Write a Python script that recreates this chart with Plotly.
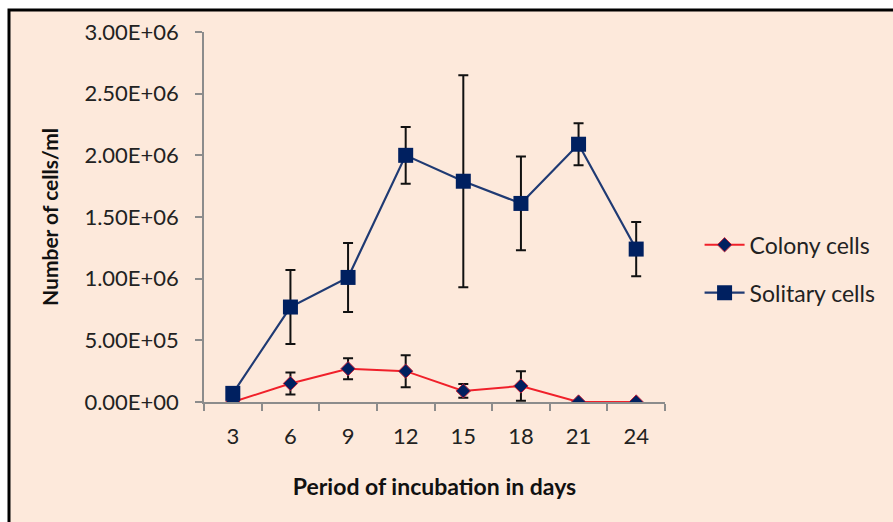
import plotly.graph_objects as go

# Incubation period (days) and cell counts per ml
days = ["3", "6", "9", "12", "15", "18", "21", "24"]
colony = [0, 150000, 270000, 250000, 90000, 130000, 0, 0]
colony_err = [0, 90000, 85000, 130000, 55000, 120000, 0, 0]
solitary = [70000, 770000, 1010000, 2000000, 1790000, 1610000, 2090000, 1240000]
solitary_err = [20000, 300000, 280000, 230000, 860000, 380000, 170000, 220000]

y_ticks = [0, 500000, 1000000, 1500000, 2000000, 2500000, 3000000]
y_tick_labels = ["0.00E+00", "5.00E+05", "1.00E+06", "1.50E+06",
                 "2.00E+06", "2.50E+06", "3.00E+06"]

FONT = "Lato, 'Open Sans', sans-serif"
BG = "#FDE9DB"
NAVY = "#002060"

fig = go.Figure()

fig.add_trace(go.Scatter(
    x=days, y=colony, name="Colony cells", mode="lines+markers",
    legendgroup="colony",
    line=dict(color="#F0202A", width=2),
    marker=dict(symbol="diamond", size=11, color=NAVY,
                line=dict(color="#C0203A", width=1)),
    error_y=dict(type="data", array=colony_err, visible=True,
                 color="#111111", thickness=2, width=5),
))

fig.add_trace(go.Scatter(
    x=days, y=solitary, name="Solitary cells", mode="lines+markers",
    legendgroup="solitary",
    line=dict(color="#1F3A73", width=2.2),
    marker=dict(symbol="square", size=15, color=NAVY),
    error_y=dict(type="data", array=solitary_err, visible=True,
                 color="#111111", thickness=2, width=5),
))

# Peach panel with a black frame running off the right and bottom edges
fig.add_shape(type="rect", xref="paper", yref="paper",
              x0=-0.423, x1=1.6, y0=-0.4, y1=1.0595,
              fillcolor=BG, line=dict(color="black", width=3), layer="below")

fig.update_layout(
    width=893, height=522,
    margin=dict(l=204, r=228, t=32, b=120),
    paper_bgcolor="white", plot_bgcolor=BG,
    font=dict(family=FONT, size=21, color="#222222"),
    showlegend=True,
    legend=dict(x=1.075, y=0.36, xanchor="left", yanchor="middle",
                bgcolor="rgba(0,0,0,0)", font=dict(size=23, color="#222222"),
                tracegroupgap=15, itemwidth=40),
    xaxis=dict(
        type="category", tickson="boundaries", range=[-0.5, 7.5],
        showline=True, linecolor="#8C8C8C", linewidth=1.5,
        ticks="outside", ticklen=7, tickcolor="#8C8C8C", tickwidth=1.5,
        showgrid=False, zeroline=False,
        tickfont=dict(size=22), ticklabelstandoff=14,
        title=dict(text="<b>Period of incubation in days</b>",
                   font=dict(size=23, color="#111111"), standoff=31),
    ),
    yaxis=dict(
        range=[0, 3000000], tickvals=y_ticks, ticktext=y_tick_labels,
        showline=True, linecolor="#8C8C8C", linewidth=1.5,
        ticks="outside", ticklen=7, tickcolor="#8C8C8C", tickwidth=1.5,
        showgrid=False, zeroline=False,
        tickfont=dict(size=22), ticklabelstandoff=12,
        title=dict(text="<b>Number of cells/ml</b>",
                   font=dict(size=21, color="#111111"), standoff=20),
    ),
)

fig.write_html("out.html")
